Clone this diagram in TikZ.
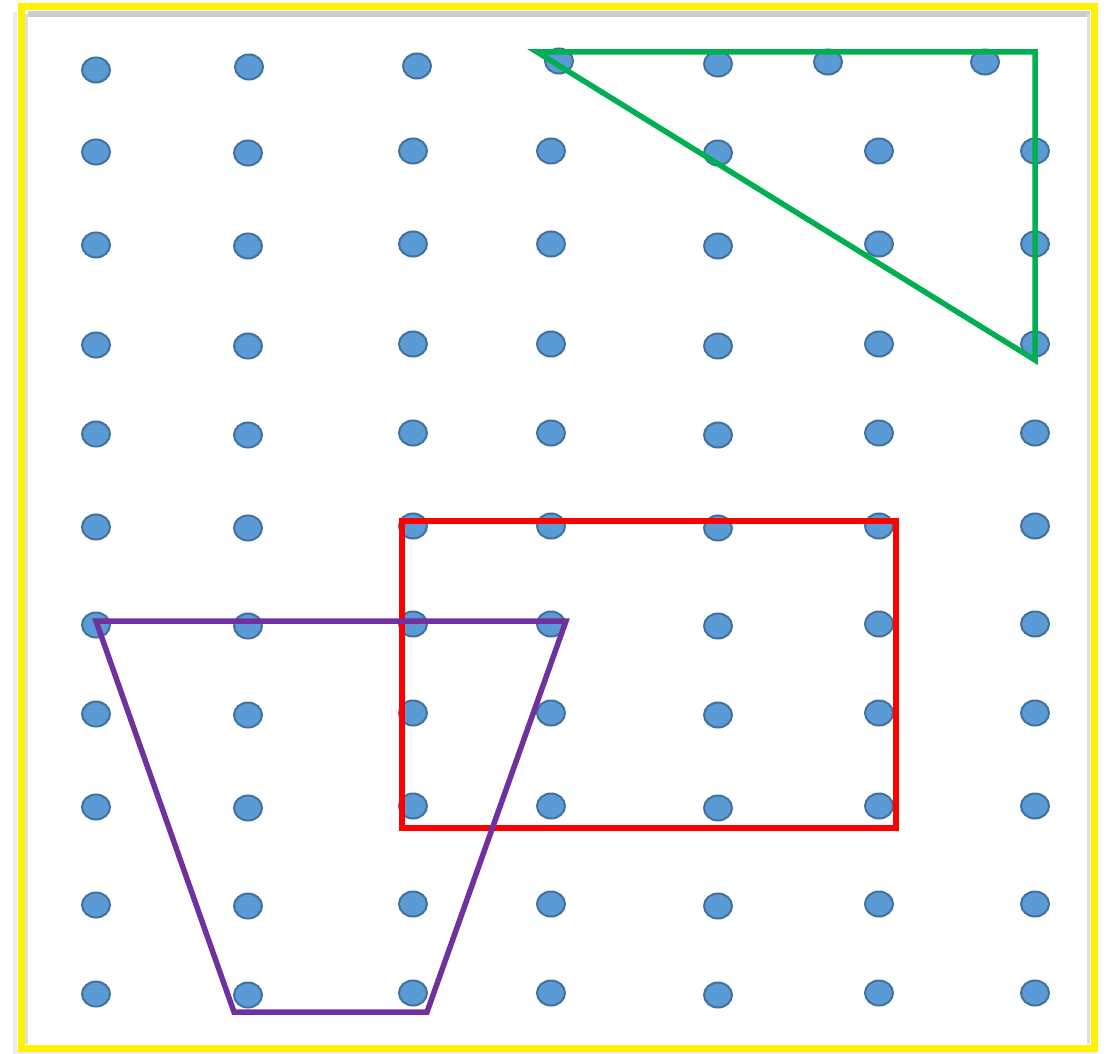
\documentclass[tikz,border=0pt]{standalone}
\usepackage{tikz}
\usepackage{xcolor}
\usetikzlibrary{calc,positioning}

\definecolor{peg}{HTML}{5B9BD5}
\definecolor{pegrim}{HTML}{41719C}
\definecolor{trigreen}{HTML}{00B050}
\definecolor{trapurple}{HTML}{7030A0}

\tikzset{
  pegdot/.style={fill=peg,draw=pegrim,line width=2pt},
  edgeline/.style={line width=5.5pt,miter limit=20,line join=miter}
}

\begin{document}
\begin{tikzpicture}[x=1pt,y=-1pt]
\useasboundingbox (0,0) rectangle (1109,1054);

% board frame with shadow
\fill[white] (0,0) rectangle (1109,1054);
\draw[gray!15, line width=4pt] (15,12) -- (15,1052) -- (1096,1052);
\draw[gray!40, line width=6pt] (28,14) -- (1090,14);
\draw[gray!25, line width=3pt] (26.5,14) -- (26.5,1044);
\draw[gray!25, line width=3pt] (1088.5,14) -- (1088.5,1044);
\draw[yellow, line width=7pt] (21,7) rectangle (1094,1048);

% top row of pegs
\foreach \px/\py in {96/70,249/67,417/66,559/61,718/64,828/62,985/62}
  \draw[pegdot] (\px,\py) ellipse (14pt and 12.5pt);

% remaining pegs
\foreach \py in {151,244,344,433,526,624,713,806,904,993}
  \foreach \px/\dy in {96/1,248/2,413/0,551/0,718/2,879/0,1035/0}
    \draw[pegdot] (\px,\py+\dy) ellipse (14pt and 12.5pt);

\path
  (537,52) coordinate (t0)
  (1035,52) coordinate (t1)
  (1035,360) coordinate (t2);
\draw[trigreen, edgeline] (t0) -- (t1) -- (t2) -- cycle;

\path
  (402,521) coordinate (r0)
  (896,828) coordinate (r1);
\draw[red, edgeline, line width=6pt] (r0) rectangle (r1);

\path
  (96,621) coordinate (q0)
  (566,621) coordinate (q1)
  (427,1012) coordinate (q2)
  (234,1012) coordinate (q3);
\draw[trapurple, edgeline] (q0) -- (q1) -- (q2) -- (q3) -- cycle;

\end{tikzpicture}
\end{document}
